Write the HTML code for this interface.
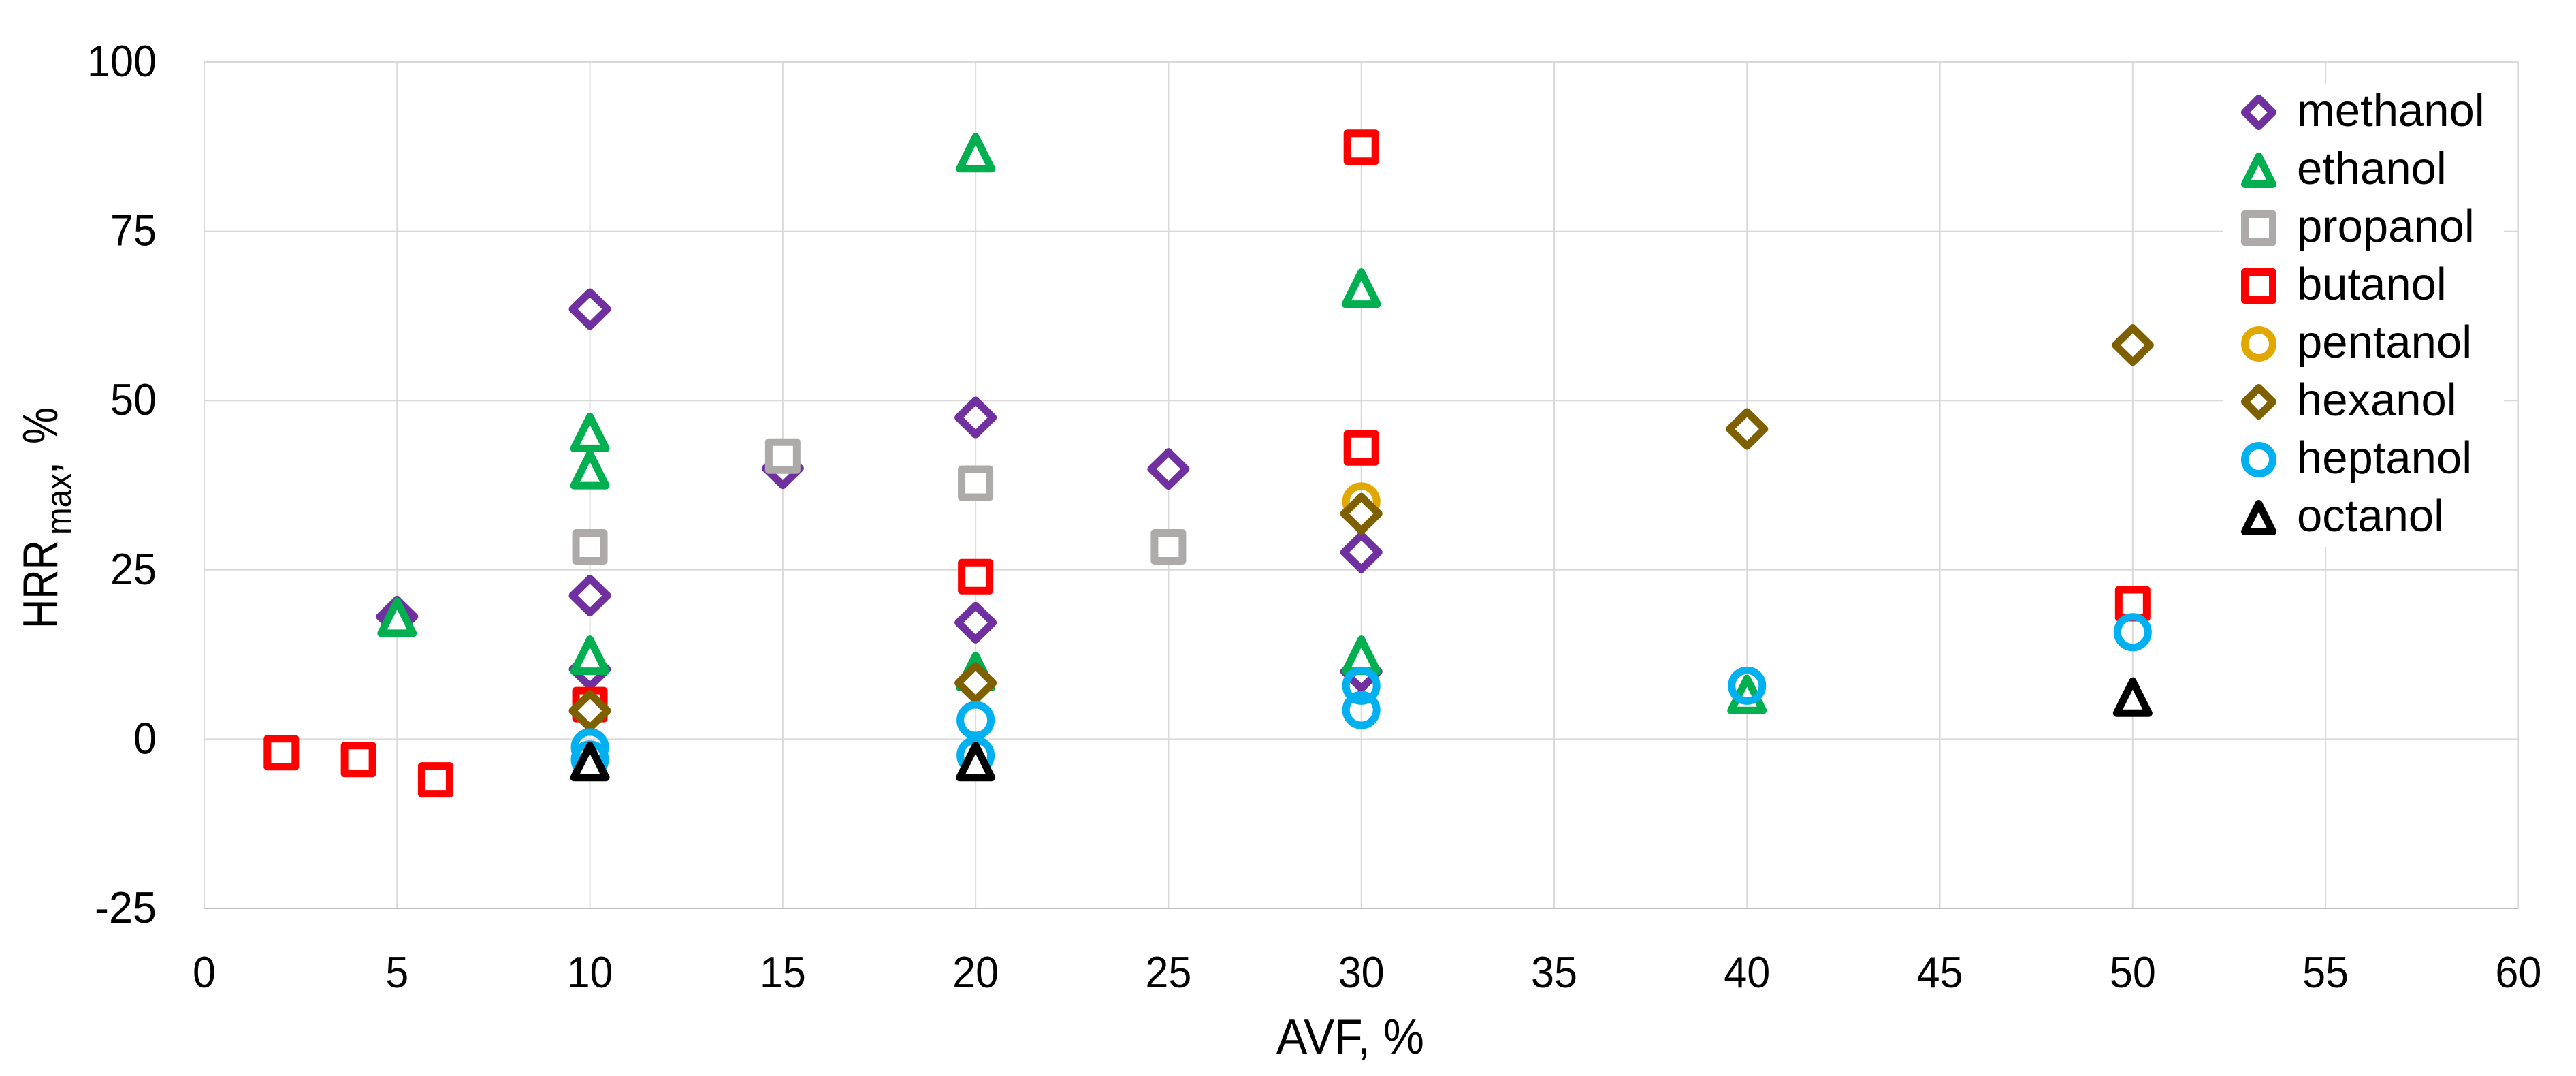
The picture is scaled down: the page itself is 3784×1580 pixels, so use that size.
<!DOCTYPE html>
<html>
<head>
<meta charset="utf-8">
<title>HRRmax vs AVF</title>
<style>
html,body{margin:0;padding:0;background:#fff;}
svg{display:block;}
text{font-family:"Liberation Sans",sans-serif;fill:#000;}
</style>
</head>
<body>
<svg id="chart" xmlns="http://www.w3.org/2000/svg" width="3784" height="1580" viewBox="0 0 3784 1580">
  <rect x="0" y="0" width="3784" height="1580" fill="#ffffff"/>
  <g id="grid"></g>
  <rect x="3266" y="123" width="412" height="680" fill="#ffffff"/>
  <g id="marks"></g>
  <g id="xticks"></g>
  <g id="yticks"></g>
  <g id="legend"></g>
  <text x="1875" y="1547" font-size="72" textLength="217" lengthAdjust="spacingAndGlyphs">AVF, %</text>
  <g transform="translate(84,923) rotate(-90)">
    <text x="0" y="0" font-size="72" textLength="130" lengthAdjust="spacingAndGlyphs">HRR</text>
    <text x="138" y="20" font-size="52" textLength="90" lengthAdjust="spacingAndGlyphs">max</text>
    <text x="226" y="0" font-size="72">,</text>
    <text x="271" y="0" font-size="72" textLength="54" lengthAdjust="spacingAndGlyphs">%</text>
  </g>
</svg>
<script>
const xTickLabels = [0, 5, 10, 15, 20, 25, 30, 35, 40, 45, 50, 55, 60];
const yTickLabels = [-25, 0, 25, 50, 75, 100];

const methanolX = [5, 10, 10, 10, 15, 20, 20, 25, 30, 30];
const methanolY = [18.1, 63.5, 21.2, 10.3, 40.0, 47.5, 17.2, 39.9, 27.6, 10.0];
const ethanolX = [5, 10, 10, 10, 20, 20, 30, 30, 40];
const ethanolY = [18.0, 45.3, 39.8, 12.4, 86.6, 10.0, 66.6, 12.4, 6.6];
const propanolX = [10, 15, 20, 25];
const propanolY = [28.4, 41.8, 37.8, 28.4];
const butanolX = [2, 4, 6, 10, 20, 30, 30, 50];
const butanolY = [-2, -3, -6, 5.1, 24, 87.4, 43, 20];
const pentanolX = [30];
const pentanolY = [35.1];
const hexanolX = [10, 20, 30, 40, 50];
const hexanolY = [4.2, 8.3, 33.3, 45.8, 58.2];
const heptanolX = [10, 10, 20, 20, 30, 30, 40, 50];
const heptanolY = [-1.2, -3.0, 2.8, -2.4, 7.9, 4.3, 7.9, 15.8];
const octanolX = [10, 20, 50];
const octanolY = [-3.3, -3.3, 6.2];

const seriesNames = ["methanol", "ethanol", "propanol", "butanol", "pentanol", "hexanol", "heptanol", "octanol"];
const seriesXs = [methanolX, ethanolX, propanolX, butanolX, pentanolX, hexanolX, heptanolX, octanolX];
const seriesYs = [methanolY, ethanolY, propanolY, butanolY, pentanolY, hexanolY, heptanolY, octanolY];

const seriesColor = {methanol:"#7030a0", ethanol:"#00b050", propanol:"#aeaaaa", butanol:"#ff0000", pentanol:"#e0a800", hexanol:"#7f6000", heptanol:"#00b0f0", octanol:"#000000"};
const seriesShape = {methanol:"diamond", ethanol:"triangle", propanol:"square", butanol:"square", pentanol:"circle", hexanol:"diamond", heptanol:"circle", octanol:"triangle"};

const NS = "http://www.w3.org/2000/svg";
const plotLeft = 300, plotRight = 3699.4, plotTop = 91, plotBottom = 1334;
const xMin = 0, xMax = 60, yMin = -25, yMax = 100;
function xScale(v){ return plotLeft + (v - xMin) / (xMax - xMin) * (plotRight - plotLeft); }
function yScale(v){ return plotBottom - (v - yMin) / (yMax - yMin) * (plotBottom - plotTop); }

function drawMarker(shape, color, cx, cy, big){
  const strokeW = 11;
  let el;
  if (shape === "circle") {
    el = document.createElementNS(NS, "circle");
    el.setAttribute("cx", cx);
    el.setAttribute("cy", cy);
    el.setAttribute("r", big ? 22.5 : 20.5);
    el.setAttribute("fill", "none");
  } else {
    el = document.createElementNS(NS, "path");
    let d;
    if (shape === "square") {
      const h = 20.5;
      d = "M"+(cx-h)+" "+(cy-h)+"H"+(cx+h)+"V"+(cy+h)+"H"+(cx-h)+"Z";
    } else if (shape === "diamond") {
      const hx = big ? 25.5 : 20.5, hy = big ? 25 : 20.5;
      d = "M"+cx+" "+(cy-hy)+"L"+(cx+hx)+" "+cy+"L"+cx+" "+(cy+hy)+"L"+(cx-hx)+" "+cy+"Z";
    } else {
      const h = big ? 23.5 : 20.5;
      d = "M"+cx+" "+(cy-h)+"L"+(cx+h)+" "+(cy+h)+"L"+(cx-h)+" "+(cy+h)+"Z";
    }
    el.setAttribute("d", d);
    el.setAttribute("fill", "#ffffff");
  }
  el.setAttribute("stroke", color);
  el.setAttribute("stroke-width", strokeW);
  el.setAttribute("stroke-linejoin", "round");
  return el;
}

const grid = document.getElementById("grid");
xTickLabels.forEach(function(t){
  const line = document.createElementNS(NS, "line");
  
  
  line.setAttribute("x1", xScale(t));
  line.setAttribute("x2", xScale(t));
  line.setAttribute("y1", plotTop);
  line.setAttribute("y2", plotBottom);
  line.setAttribute("stroke", "#d9d9d9");
  line.setAttribute("stroke-width", "2");
  grid.appendChild(line);
});
yTickLabels.forEach(function(t){
  const line = document.createElementNS(NS, "line");
  
  
  line.setAttribute("x1", plotLeft);
  line.setAttribute("x2", plotRight);
  line.setAttribute("y1", yScale(t));
  line.setAttribute("y2", yScale(t));
  line.setAttribute("stroke", t === yMin ? "#bfbfbf" : "#d9d9d9");
  line.setAttribute("stroke-width", "2");
  grid.appendChild(line);
});

function labelWidth(str){
  let w = 0;
  for (const c of str) { w += (c === "-") ? 23 : 34; }
  return w;
}

const xticks = document.getElementById("xticks");
xTickLabels.forEach(function(t){
  const el = document.createElementNS(NS, "text");
  
  
  el.setAttribute("x", xScale(t));
  el.setAttribute("y", 1450);
  el.setAttribute("font-size", "65");
  el.setAttribute("text-anchor", "middle");
  el.setAttribute("textLength", labelWidth(String(t)));
  el.setAttribute("lengthAdjust", "spacingAndGlyphs");
  el.textContent = String(t);
  xticks.appendChild(el);
});

const yticks = document.getElementById("yticks");
yTickLabels.forEach(function(t){
  const el = document.createElementNS(NS, "text");
  
  
  el.setAttribute("x", 230);
  el.setAttribute("y", yScale(t) + 21);
  el.setAttribute("font-size", "65");
  el.setAttribute("text-anchor", "end");
  el.setAttribute("textLength", labelWidth(String(t)));
  el.setAttribute("lengthAdjust", "spacingAndGlyphs");
  el.textContent = String(t);
  yticks.appendChild(el);
});

const marks = document.getElementById("marks");
seriesNames.forEach(function(name, i){
  const g = document.createElementNS(NS, "g");
  
  
  seriesXs[i].forEach(function(xv, j){
    const m = drawMarker(seriesShape[name], seriesColor[name], xScale(xv), yScale(seriesYs[i][j]), true);
    
    
    g.appendChild(m);
  });
  marks.appendChild(g);
});

const legend = document.getElementById("legend");
seriesNames.forEach(function(name, i){
  const cy = 165 + 85 * i;
  const g = document.createElementNS(NS, "g");
  
  
  const m = drawMarker(seriesShape[name], seriesColor[name], 3318, cy, false);
  
  
  g.appendChild(m);
  const t = document.createElementNS(NS, "text");
  
  
  t.setAttribute("x", 3374);
  t.setAttribute("y", cy + 20);
  t.setAttribute("font-size", "67");
  t.textContent = name;
  g.appendChild(t);
  legend.appendChild(g);
});
</script>
</body>
</html>
